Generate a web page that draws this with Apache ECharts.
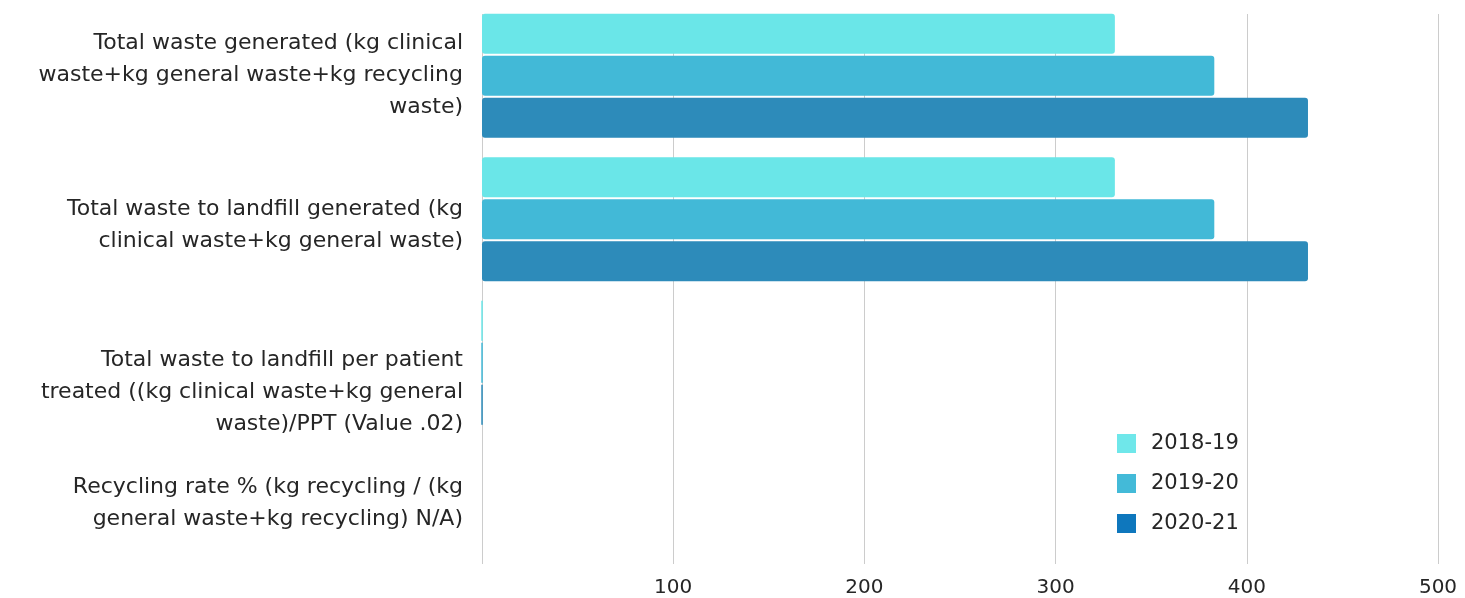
<!DOCTYPE html>
<html>
<head>
<meta charset="utf-8">
<script src="https://cdn.jsdelivr.net/npm/echarts@6/dist/echarts.min.js"></script>
<style>
  html, body { margin: 0; padding: 0; background: #fff; }
  #chart { width: 1465px; height: 598px; }
</style>
</head>
<body>
<div id="chart"></div>
<script>
// Waste indicators by financial year
const categories = [
  'Total waste generated (kg clinical\nwaste+kg general waste+kg recycling\nwaste)',
  'Total waste to landfill generated (kg\nclinical waste+kg general waste)',
  'Total waste to landfill per patient\ntreated ((kg clinical waste+kg general\nwaste)/PPT (Value .02)',
  'Recycling rate % (kg recycling / (kg\ngeneral waste+kg recycling) N/A)'
];
const years = ['2018-19', '2019-20', '2020-21'];
const values2018 = [331, 331, 0.02, null];
const values2019 = [383, 383, 0.02, null];
const values2020 = [432, 432, 0.02, null];
const xTicks = [0, 100, 200, 300, 400, 500];

const barColors = ['#6ae6e8', '#42b9d7', '#2d8bba'];
const legendColors = ['#6fe7ea', '#43bad8', '#0e77bd'];
const fontFamily = '"DejaVu Sans", "Open Sans", sans-serif';
const textColor = '#262626';

// spacer line above / below each category label (rich style names)
const labelSpacer = [[null, null], ['g12', null], ['g60', null], [null, 'g6']];

const seriesValues = [values2018, values2019, values2020];

const chart = echarts.init(document.getElementById('chart'));

chart.setOption({
  animation: false,
  textStyle: { fontFamily: fontFamily },
  legend: {
    orient: 'vertical',
    left: 1112,
    top: 428,
    itemWidth: 19,
    itemHeight: 19,
    itemGap: 19,
    icon: 'rect',
    textStyle: { fontSize: 21, color: textColor, fontFamily: fontFamily, padding: [0, 0, 0, 10] },
    data: years.map((y, i) => ({ name: y, itemStyle: { color: legendColors[i] } }))
  },
  grid: [
    // grid carrying the bars and category labels
    { left: 482, right: 27, top: 4, bottom: 20, containLabel: false },
    // grid carrying the value gridlines and tick labels
    { left: 482, right: 27, top: 14, bottom: 30, containLabel: false }
  ],
  xAxis: [
    {
      gridIndex: 0, type: 'value', min: 0, max: 500, interval: 100,
      show: false
    },
    {
      gridIndex: 1, type: 'value', min: xTicks[0], max: xTicks[xTicks.length - 1], interval: 100,
      axisLine: { show: false },
      axisTick: { show: false },
      splitLine: { show: true, lineStyle: { color: '#cccccc', width: 1 } },
      axisLabel: {
        fontSize: 20, color: textColor, margin: 14,
        formatter: v => (v === 0 ? '' : String(v))
      }
    }
  ],
  yAxis: [
    {
      gridIndex: 0, type: 'category', inverse: true,
      data: categories,
      axisLine: { show: false },
      axisTick: { show: false },
      splitLine: { show: false },
      axisLabel: {
        fontSize: 22, lineHeight: 32, color: textColor, margin: 19, align: 'right',
        formatter: (v, i) => {
          const [above, below] = labelSpacer[i];
          let s = v;
          if (above) s = '{' + above + '| }\n' + s;
          if (below) s = s + '\n{' + below + '| }';
          return s;
        },
        rich: {
          g6: { lineHeight: 6, fontSize: 4 },
          g12: { lineHeight: 12, fontSize: 4 },
          g60: { lineHeight: 60, fontSize: 4 }
        }
      }
    },
    {
      gridIndex: 1, type: 'category', data: ['a'], show: false
    }
  ],
  series: years.map((y, i) => ({
    name: y,
    type: 'bar',
    xAxisIndex: 0,
    yAxisIndex: 0,
    barGap: '5%',
    barCategoryGap: '13.6%',
    itemStyle: { color: barColors[i], borderRadius: 3 },
    data: seriesValues[i].map(v => (v !== null && v < 1)
      ? { value: v, itemStyle: { borderColor: barColors[i], borderWidth: 1, borderRadius: 0 } }
      : v)
  }))
});
</script>
</body>
</html>
